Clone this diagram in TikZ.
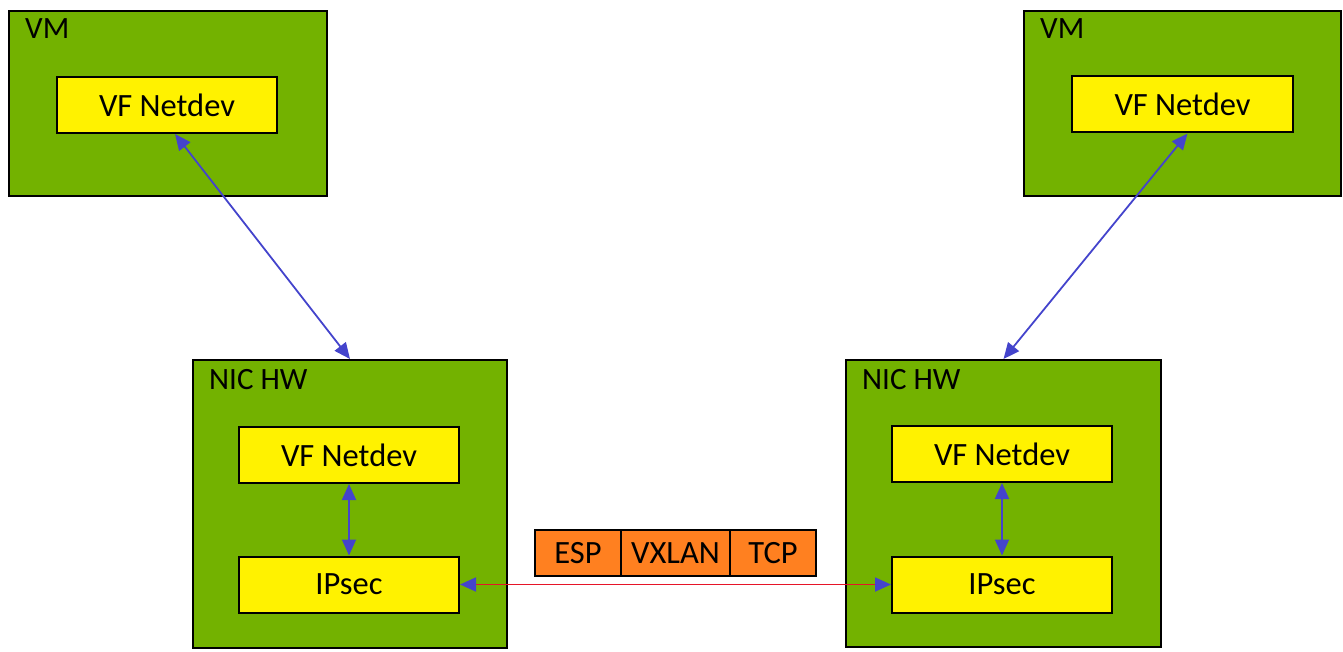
\documentclass[tikz,border=0pt]{standalone}
\usepackage{fontspec}
\setmainfont{Carlito}
\usetikzlibrary{arrows.meta}
\definecolor{boxgreen}{RGB}{115,178,0}
\definecolor{boxyellow}{RGB}{255,242,0}
\definecolor{boxorange}{RGB}{255,128,32}
\definecolor{arrowblue}{RGB}{68,68,204}
\definecolor{linered}{RGB}{230,20,40}
\begin{document}
\begin{tikzpicture}[x=1pt,y=-1pt,
  outerbox/.style={draw=black,line width=2pt,fill=boxgreen,anchor=north west,inner sep=0pt},
  innerbox/.style={draw=black,line width=2pt,fill=boxyellow,inner sep=0pt,font=\fontsize{32.5}{38}\selectfont},
  hdrbox/.style={draw=black,line width=1.5pt,fill=boxorange,inner sep=0pt,minimum height=46pt,font=\fontsize{32.5}{38}\selectfont},
  boxlabel/.style={anchor=base west,inner sep=0pt,font=\fontsize{31}{36}\selectfont},
  bluearrow/.style={draw=arrowblue,line width=1.8pt,{Triangle[length=16pt,width=14pt]}-{Triangle[length=16pt,width=14pt]}},
  redarrow/.style={draw=linered,line width=1.8pt,{Triangle[length=16pt,width=14pt,color=arrowblue]}-{Triangle[length=16pt,width=14pt,color=arrowblue]}}
]
\useasboundingbox (0,0) rectangle (1343,652);
% VM boxes
\node[outerbox,minimum width=318pt,minimum height=185pt] (vm1) at (8,10) {};
\node[outerbox,minimum width=317pt,minimum height=185pt] (vm2) at (1023,10) {};
\node[boxlabel] (vm1l) at ([xshift=17pt,yshift=-29pt]vm1.north west) {VM};
\node[boxlabel] (vm2l) at ([xshift=17pt,yshift=-29pt]vm2.north west) {VM};
\node[innerbox,minimum width=220pt,minimum height=56pt] (vf1) at (167,105) {VF Netdev};
\node[innerbox,minimum width=221pt,minimum height=56pt] (vf2) at (1182.5,104.5) {VF Netdev};
% NIC HW boxes
\node[outerbox,minimum width=314pt,minimum height=288pt] (nic1) at (192,359) {};
\node[outerbox,minimum width=315pt,minimum height=287pt] (nic2) at (845,359) {};
\node[boxlabel] (nic1l) at ([xshift=17pt,yshift=-30pt]nic1.north west) {NIC HW};
\node[boxlabel] (nic2l) at ([xshift=17pt,yshift=-30pt]nic2.north west) {NIC HW};
\node[innerbox,minimum width=220pt,minimum height=56pt] (nvf1) at (349,455) {VF Netdev};
\node[innerbox,minimum width=220pt,minimum height=56pt] (ips1) at (349,584.5) {IPsec};
\node[innerbox,minimum width=220pt,minimum height=56pt] (nvf2) at (1002,454) {VF Netdev};
\node[innerbox,minimum width=220pt,minimum height=56pt] (ips2) at (1002,584.5) {IPsec};
% header stack
\node[hdrbox,minimum width=86pt] (esp) at (578,553) {ESP};
\node[hdrbox,minimum width=109pt] (vxlan) at (675.5,553) {VXLAN};
\node[hdrbox,minimum width=86pt] (tcp) at (773,553) {TCP};
% connectors
\draw[bluearrow] ([xshift=8pt]vf1.south) -- (nic1.north);
\draw[bluearrow] ([xshift=5pt]vf2.south) -- (nic2.north);
\draw[bluearrow] (nvf1.south) -- (ips1.north);
\draw[bluearrow] (nvf2.south) -- (ips2.north);
\draw[redarrow] (ips1.east) -- (ips2.west);
\end{tikzpicture}
\end{document}
